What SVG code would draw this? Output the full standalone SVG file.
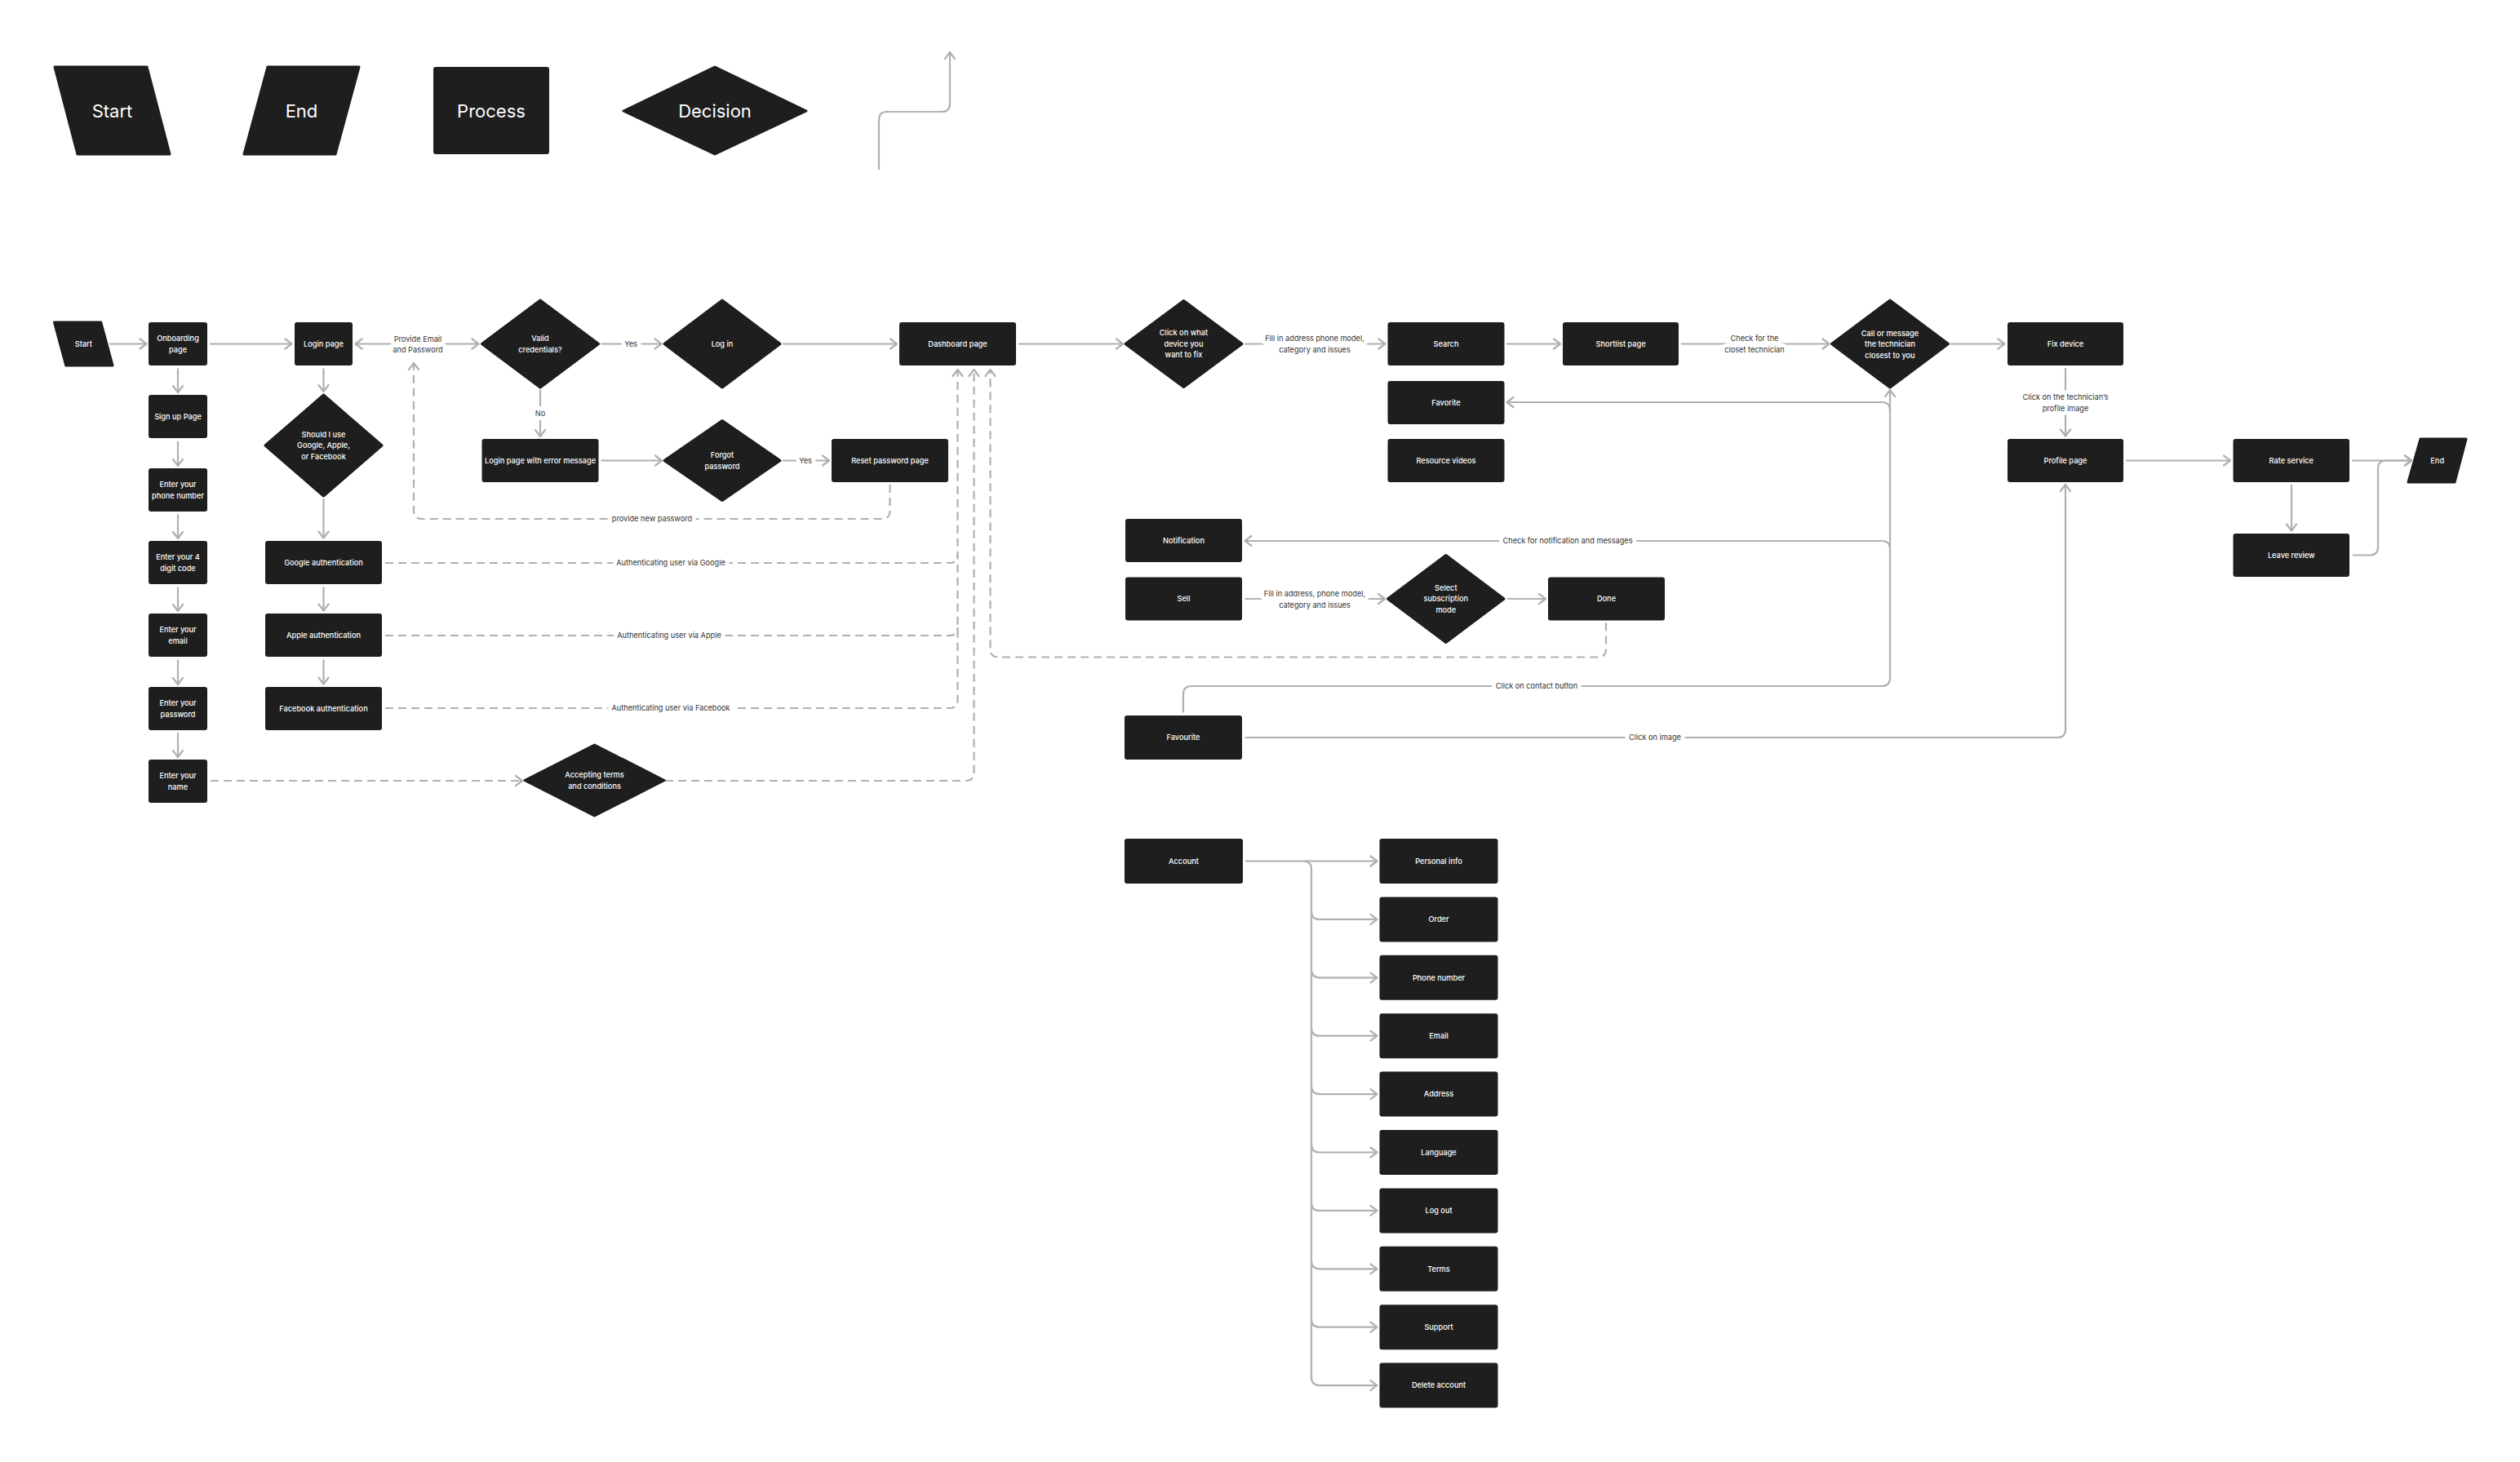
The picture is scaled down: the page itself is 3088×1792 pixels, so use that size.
<svg xmlns="http://www.w3.org/2000/svg" width="3088" height="1792" viewBox="0 0 3088 1792">
<defs>
<style>
.n{fill:#1e1e1e}
.dm{fill:#1e1e1e;stroke:#1e1e1e;stroke-width:3;stroke-linejoin:round}
.t{font-family:Inter,"Liberation Sans",sans-serif;font-size:9.2px;font-weight:500;fill:#ffffff;text-anchor:middle}
.tl{font-family:Inter,"Liberation Sans",sans-serif;font-size:22px;font-weight:400;fill:#ffffff;text-anchor:middle}
.lb{font-family:Inter,"Liberation Sans",sans-serif;font-size:9.2px;fill:#333333;text-anchor:middle;stroke:#ffffff;stroke-width:10px;stroke-linejoin:round;paint-order:stroke}
.c{fill:none;stroke:#b0b0b0;stroke-width:2.2}
.d{stroke-dasharray:10 6}
</style>
<marker id="ah" viewBox="-10 -8 12 16" refX="0" refY="0" markerWidth="12" markerHeight="16" markerUnits="userSpaceOnUse" orient="auto-start-reverse">
<path d="M-8,-6 L0,0 L-8,6" fill="none" stroke="#b0b0b0" stroke-width="2.2" stroke-linecap="round" stroke-linejoin="round"/>
</marker>
</defs>
<rect width="3088" height="1792" fill="#ffffff"/>

<!-- Legend -->
<g id="legend-start"><polygon class="dm" points="67,82 180,82 208,189 95,189"/><text class="tl" x="137.5" y="144">Start</text></g>
<g id="legend-end"><polygon class="dm" points="328,82 440,82 411,189 299,189"/><text class="tl" x="369.5" y="144">End</text></g>
<g id="legend-process"><rect class="n" x="531" y="82" width="142" height="107" rx="3"/><text class="tl" x="602" y="144">Process</text></g>
<g id="legend-decision"><polygon class="dm" points="876,82 988,136 876,189 764,136"/><text class="tl" x="876" y="144">Decision</text></g>

<!-- Connectors -->
<g id="connectors">
<path class="c" marker-end="url(#ah)" d="M1077,208 V147 Q1077,137 1087,137 H1154 Q1164,137 1164,127 V64"/>
<path class="c" marker-end="url(#ah)" d="M134,421.5 H179.5"/>
<path class="c" marker-end="url(#ah)" d="M257,421.5 H357.5"/>
<path class="c" marker-end="url(#ah)" d="M218,451.5 V481"/>
<path class="c" marker-end="url(#ah)" d="M218,541 V571"/>
<path class="c" marker-end="url(#ah)" d="M218,630.5 V660"/>
<path class="c" marker-end="url(#ah)" d="M218,719.5 V749"/>
<path class="c" marker-end="url(#ah)" d="M218,808.5 V839"/>
<path class="c" marker-end="url(#ah)" d="M218,898 V928"/>
<path class="c" marker-end="url(#ah)" d="M396.5,451.5 V480"/>
<path class="c" marker-end="url(#ah)" d="M396.5,611.5 V659.5"/>
<path class="c" marker-end="url(#ah)" d="M396.5,719.5 V748.5"/>
<path class="c" marker-end="url(#ah)" d="M396.5,808.5 V838.5"/>
<path class="c" marker-start="url(#ah)" marker-end="url(#ah)" d="M435.5,421.5 H586.5"/>
<path class="c" marker-end="url(#ah)" d="M736,421.5 H810.5"/>
<path class="c" marker-end="url(#ah)" d="M959,421.5 H1099"/>
<path class="c" marker-end="url(#ah)" d="M662,477.5 V535"/>
<path class="c" marker-end="url(#ah)" d="M736.5,564.5 H811"/>
<path class="c" marker-end="url(#ah)" d="M959,564.5 H1016"/>
<path class="c" marker-end="url(#ah)" d="M1248,421.5 H1376"/>
<path class="c" marker-end="url(#ah)" d="M1525,421.5 H1697.5"/>
<path class="c" marker-end="url(#ah)" d="M1846,421.5 H1912"/>
<path class="c" marker-end="url(#ah)" d="M2060,421.5 H2241.5"/>
<path class="c" marker-end="url(#ah)" d="M2390,421.5 H2456.5"/>
<path class="c" marker-end="url(#ah)" d="M2531,451 V534.5"/>
<path class="c" marker-end="url(#ah)" d="M2605,564.5 H2733"/>
<path class="c" marker-end="url(#ah)" d="M2882,564.5 H2955"/>
<path class="c" marker-end="url(#ah)" d="M2808,594 V650.5"/>
<path class="c" marker-end="url(#ah)" d="M2883,680.5 H2904 Q2914,680.5 2914,670.5 V574.5 Q2914,564.5 2924,564.5 H2955"/>
<path class="c" marker-end="url(#ah)" d="M1450,873.5 V851 Q1450,841 1460,841 H2306 Q2316,841 2316,831 V478"/>
<path class="c" marker-end="url(#ah)" d="M2316,503 Q2316,493 2306,493 H1846.5"/>
<path class="c" marker-end="url(#ah)" d="M2316,673 Q2316,663 2306,663 H1525.5"/>
<path class="c" marker-end="url(#ah)" d="M1525.5,904 H2521 Q2531,904 2531,894 V594"/>
<path class="c" marker-end="url(#ah)" d="M1525.5,734 H1697"/>
<path class="c" marker-end="url(#ah)" d="M1847,734 H1894"/>
<path class="c" marker-end="url(#ah)" d="M1526,1055.5 H1687.5"/>
<path class="c" d="M1597,1055.5 Q1607,1055.5 1607,1065.5 V1688"/>
<path class="c" marker-end="url(#ah)" d="M1607,1116.9 Q1607,1126.9 1617,1126.9 H1687.5"/>
<path class="c" marker-end="url(#ah)" d="M1607,1188.3 Q1607,1198.3 1617,1198.3 H1687.5"/>
<path class="c" marker-end="url(#ah)" d="M1607,1259.7 Q1607,1269.7 1617,1269.7 H1687.5"/>
<path class="c" marker-end="url(#ah)" d="M1607,1331.1 Q1607,1341.1 1617,1341.1 H1687.5"/>
<path class="c" marker-end="url(#ah)" d="M1607,1402.5 Q1607,1412.5 1617,1412.5 H1687.5"/>
<path class="c" marker-end="url(#ah)" d="M1607,1473.9 Q1607,1483.9 1617,1483.9 H1687.5"/>
<path class="c" marker-end="url(#ah)" d="M1607,1545.3 Q1607,1555.3 1617,1555.3 H1687.5"/>
<path class="c" marker-end="url(#ah)" d="M1607,1616.7 Q1607,1626.7 1617,1626.7 H1687.5"/>
<path class="c" marker-end="url(#ah)" d="M1607,1688.1 Q1607,1698.1 1617,1698.1 H1687.5"/>
<!-- dashed -->
<path class="c d" marker-end="url(#ah)" d="M1090.5,594 V626 Q1090.5,636 1080.5,636 H517 Q507,636 507,626 V445"/>
<path class="c d" d="M472,690 H1163.5 Q1173.5,690 1173.5,680"/>
<path class="c d" d="M472,779 H1163.5 Q1173.5,779 1173.5,769"/>
<path class="c d" marker-end="url(#ah)" d="M472,868 H1163.5 Q1173.5,868 1173.5,858 V453"/>
<path class="c d" marker-end="url(#ah)" d="M258,957 H640"/>
<path class="c d" marker-end="url(#ah)" d="M815,957 H1183.5 Q1193.5,957 1193.5,947 V453"/>
<path class="c d" marker-end="url(#ah)" d="M1968,763.5 V795.5 Q1968,805.5 1958,805.5 H1223.5 Q1213.5,805.5 1213.5,795.5 V453"/>
<!-- labels -->
<text class="lb" x="512" y="418.5">Provide Email</text>
<text class="lb" x="512" y="432">and Password</text>
<text class="lb" x="773" y="424.8">Yes</text>
<text class="lb" x="662" y="510">No</text>
<text class="lb" x="987" y="567.8">Yes</text>
<text class="lb" x="799" y="639.3">provide new password</text>
<text class="lb" x="822" y="693.3">Authenticating user via Google</text>
<text class="lb" x="820" y="782.3">Authenticating user via Apple</text>
<text class="lb" x="822" y="871.3">Authenticating user via Facebook</text>
<text class="lb" x="1611" y="418.3">Fill in address phone model,</text>
<text class="lb" x="1611" y="431.8">category and issues</text>
<text class="lb" x="2150" y="418.3">Check for the</text>
<text class="lb" x="2150" y="432">closet technician</text>
<text class="lb" x="2531" y="490">Click on the technician’s</text>
<text class="lb" x="2531" y="503.5">profile image</text>
<text class="lb" x="1921" y="666.3">Check for notification and messages</text>
<text class="lb" x="1611" y="730.8">Fill in address, phone model,</text>
<text class="lb" x="1611" y="744.5">category and issues</text>
<text class="lb" x="1883" y="844.3">Click on contact button</text>
<text class="lb" x="2028" y="907.3">Click on image</text>
</g>

<!-- Nodes -->
<g id="start"><polygon class="dm" points="66.5,395 123.7,395 138,448 80.8,448"/><text class="t" x="102.3" y="424.8">Start</text></g>
<g id="onboarding"><rect class="n" x="182" y="395" width="72" height="53" rx="3"/><text class="t" x="218" y="418"><tspan x="218">Onboarding</tspan><tspan x="218" dy="13.5">page</tspan></text></g>
<g id="signup"><rect class="n" x="182" y="484" width="72" height="53" rx="3"/><text class="t" x="218" y="513.8">Sign up Page</text></g>
<g id="phone"><rect class="n" x="182" y="574" width="72" height="53" rx="3"/><text class="t" x="218" y="597"><tspan x="218">Enter your</tspan><tspan x="218" dy="13.5">phone number</tspan></text></g>
<g id="code"><rect class="n" x="182" y="663" width="72" height="53" rx="3"/><text class="t" x="218" y="686"><tspan x="218">Enter your 4</tspan><tspan x="218" dy="13.5">digit code</tspan></text></g>
<g id="email"><rect class="n" x="182" y="752" width="72" height="53" rx="3"/><text class="t" x="218" y="775"><tspan x="218">Enter your</tspan><tspan x="218" dy="13.5">email</tspan></text></g>
<g id="password"><rect class="n" x="182" y="842" width="72" height="53" rx="3"/><text class="t" x="218" y="865"><tspan x="218">Enter your</tspan><tspan x="218" dy="13.5">password</tspan></text></g>
<g id="name"><rect class="n" x="182" y="931" width="72" height="53" rx="3"/><text class="t" x="218" y="954"><tspan x="218">Enter your</tspan><tspan x="218" dy="13.5">name</tspan></text></g>
<g id="login"><rect class="n" x="361" y="395" width="71" height="53" rx="3"/><text class="t" x="396.5" y="424.8">Login page</text></g>
<g id="should-use"><polygon class="dm" points="396.5,484 468,546 396.5,608 325,546"/><text class="t" x="396.5" y="535.8"><tspan x="396.5">Should I use</tspan><tspan x="396.5" dy="13.5">Google, Apple,</tspan><tspan x="396.5" dy="13.5">or Facebook</tspan></text></g>
<g id="google"><rect class="n" x="325" y="663" width="143" height="53" rx="3"/><text class="t" x="396.5" y="692.8">Google authentication</text></g>
<g id="apple"><rect class="n" x="325" y="752" width="143" height="53" rx="3"/><text class="t" x="396.5" y="781.8">Apple authentication</text></g>
<g id="facebook"><rect class="n" x="325" y="842" width="143" height="53" rx="3"/><text class="t" x="396.5" y="871.8">Facebook authentication</text></g>
<g id="valid"><polygon class="dm" points="662,368 733.5,421.5 662,475 590.5,421.5"/><text class="t" x="662" y="418"><tspan x="662">Valid</tspan><tspan x="662" dy="13.5">credentials?</tspan></text></g>
<g id="log-in"><polygon class="dm" points="885,368 956,421.5 885,475 814,421.5"/><text class="t" x="885" y="424.8">Log in</text></g>
<g id="login-error"><rect class="n" x="590.5" y="538" width="143" height="53" rx="3"/><text class="t" x="662" y="567.8">Login page with error message</text></g>
<g id="forgot"><polygon class="dm" points="885,515.5 956,564.5 885,613.5 814,564.5"/><text class="t" x="885" y="561"><tspan x="885">Forgot</tspan><tspan x="885" dy="13.5">password</tspan></text></g>
<g id="reset"><rect class="n" x="1019" y="538" width="143" height="53" rx="3"/><text class="t" x="1090.5" y="567.8">Reset password page</text></g>
<g id="accept-terms"><polygon class="dm" points="728.5,913 814,956.5 728.5,1000 643,956.5"/><text class="t" x="728.5" y="953"><tspan x="728.5">Accepting terms</tspan><tspan x="728.5" dy="13.5">and conditions</tspan></text></g>
<g id="dashboard"><rect class="n" x="1102" y="395" width="143" height="53" rx="3"/><text class="t" x="1173.5" y="424.8">Dashboard page</text></g>
<g id="click-device"><polygon class="dm" points="1450.5,368.5 1522,421.5 1450.5,474.5 1379,421.5"/><text class="t" x="1450.5" y="411.3"><tspan x="1450.5">Click on what</tspan><tspan x="1450.5" dy="13.5">device you</tspan><tspan x="1450.5" dy="13.5">want to fix</tspan></text></g>
<g id="search"><rect class="n" x="1700.5" y="395" width="143" height="53" rx="3"/><text class="t" x="1772" y="424.8">Search</text></g>
<g id="favorite"><rect class="n" x="1700.5" y="467" width="143" height="53" rx="3"/><text class="t" x="1772" y="496.8">Favorite</text></g>
<g id="resource-videos"><rect class="n" x="1700.5" y="538" width="143" height="53" rx="3"/><text class="t" x="1772" y="567.8">Resource videos</text></g>
<g id="shortlist"><rect class="n" x="1915" y="395" width="142" height="53" rx="3"/><text class="t" x="1986" y="424.8">Shortlist page</text></g>
<g id="call-message"><polygon class="dm" points="2316,368 2387.5,421.5 2316,475 2244.5,421.5"/><text class="t" x="2316" y="411.8"><tspan x="2316">Call or message</tspan><tspan x="2316" dy="13.5">the technician</tspan><tspan x="2316" dy="13.5">closest to you</tspan></text></g>
<g id="fix-device"><rect class="n" x="2460" y="395" width="142" height="53" rx="3"/><text class="t" x="2531" y="424.8">Fix device</text></g>
<g id="profile"><rect class="n" x="2460" y="538" width="142" height="53" rx="3"/><text class="t" x="2531" y="567.8">Profile page</text></g>
<g id="rate"><rect class="n" x="2736.5" y="538" width="142.5" height="53" rx="3"/><text class="t" x="2807.8" y="567.8">Rate service</text></g>
<g id="leave-review"><rect class="n" x="2736.5" y="654" width="142.5" height="53" rx="3"/><text class="t" x="2807.8" y="683.8">Leave review</text></g>
<g id="end"><polygon class="dm" points="2966,538 3022,538 3008,591 2951,591"/><text class="t" x="2986.7" y="567.8">End</text></g>
<g id="notification"><rect class="n" x="1379" y="636" width="143" height="53" rx="3"/><text class="t" x="1450.5" y="665.8">Notification</text></g>
<g id="sell"><rect class="n" x="1379" y="707.5" width="143" height="53" rx="3"/><text class="t" x="1450.5" y="737.3">Sell</text></g>
<g id="select-subscription"><polygon class="dm" points="1771.8,680.5 1843,734 1771.8,787.5 1700.5,734"/><text class="t" x="1771.8" y="723.8"><tspan x="1771.8">Select</tspan><tspan x="1771.8" dy="13.5">subscription</tspan><tspan x="1771.8" dy="13.5">mode</tspan></text></g>
<g id="done"><rect class="n" x="1897" y="707.5" width="143" height="53" rx="3"/><text class="t" x="1968.5" y="737.3">Done</text></g>
<g id="favourite"><rect class="n" x="1378" y="877" width="144" height="54" rx="3"/><text class="t" x="1450" y="907.3">Favourite</text></g>
<g id="account"><rect class="n" x="1378" y="1028" width="145" height="55" rx="3"/><text class="t" x="1450.5" y="1058.8">Account</text></g>
<g id="personal-info"><rect class="n" x="1690.5" y="1028" width="145" height="55" rx="3"/><text class="t" x="1763" y="1058.8">Personal info</text></g>
<g id="order"><rect class="n" x="1690.5" y="1099.4" width="145" height="55" rx="3"/><text class="t" x="1763" y="1130.2">Order</text></g>
<g id="phone-number"><rect class="n" x="1690.5" y="1170.8" width="145" height="55" rx="3"/><text class="t" x="1763" y="1201.6">Phone number</text></g>
<g id="acc-email"><rect class="n" x="1690.5" y="1242.2" width="145" height="55" rx="3"/><text class="t" x="1763" y="1273">Email</text></g>
<g id="address"><rect class="n" x="1690.5" y="1313.6" width="145" height="55" rx="3"/><text class="t" x="1763" y="1344.4">Address</text></g>
<g id="language"><rect class="n" x="1690.5" y="1385" width="145" height="55" rx="3"/><text class="t" x="1763" y="1415.8">Language</text></g>
<g id="log-out"><rect class="n" x="1690.5" y="1456.4" width="145" height="55" rx="3"/><text class="t" x="1763" y="1487.2">Log out</text></g>
<g id="terms"><rect class="n" x="1690.5" y="1527.8" width="145" height="55" rx="3"/><text class="t" x="1763" y="1558.6">Terms</text></g>
<g id="support"><rect class="n" x="1690.5" y="1599.2" width="145" height="55" rx="3"/><text class="t" x="1763" y="1630">Support</text></g>
<g id="delete-account"><rect class="n" x="1690.5" y="1670.6" width="145" height="55" rx="3"/><text class="t" x="1763" y="1701.4">Delete account</text></g>
</svg>
